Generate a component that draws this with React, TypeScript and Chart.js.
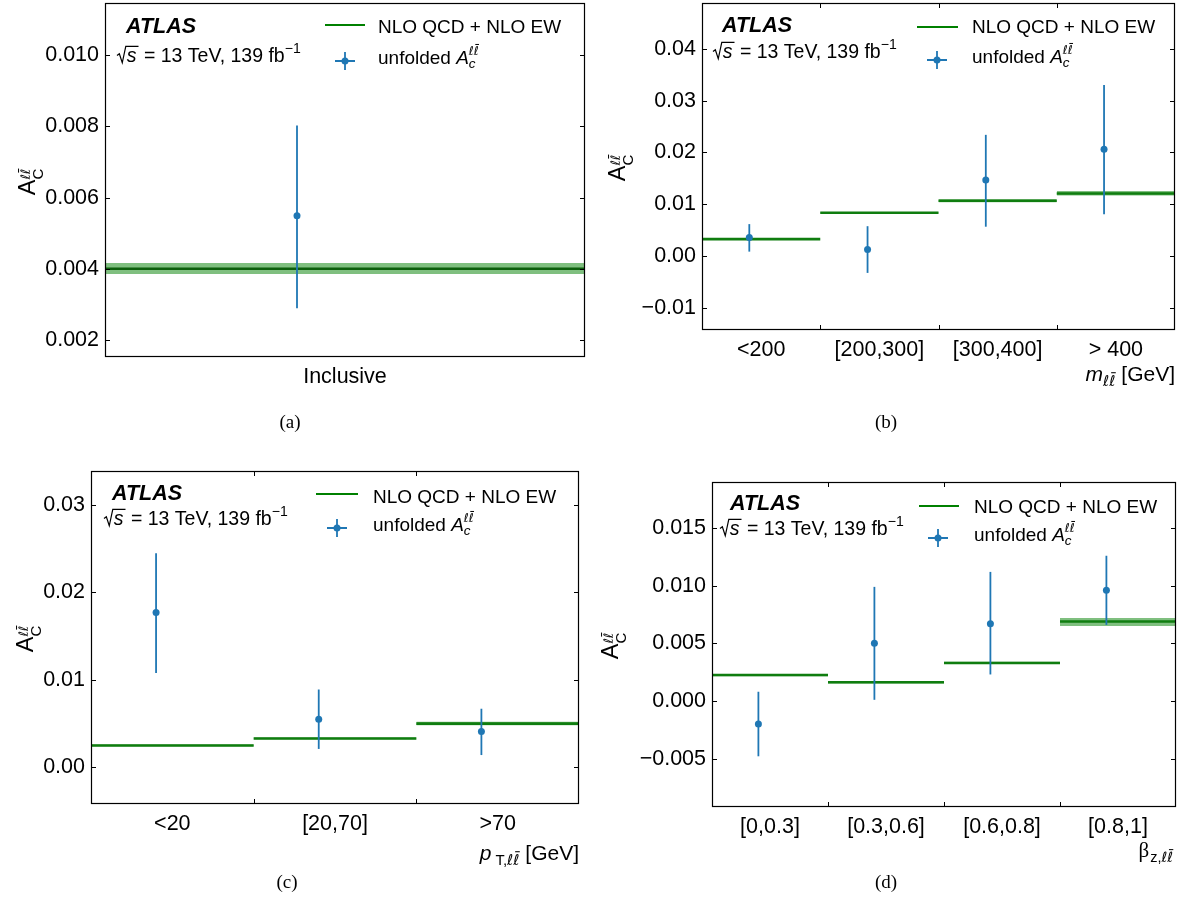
import React, { useEffect, useRef } from "react";
import { Chart, registerables } from "chart.js";

Chart.register(...registerables);

const SANS = "'Liberation Sans', Arial, sans-serif";
const MATH = "'DejaVu Sans', sans-serif";
const SERIF = "'Liberation Serif', 'Times New Roman', serif";

const BLUE = "#1f77b4";
const BAND = "rgba(0, 128, 0, 0.5)";

// (a) inclusive asymmetry
const inclusiveBins = ["Inclusive"];
const inclusiveValue = [0.00549];
const inclusiveDown = [0.00289];
const inclusiveUp = [0.00803];
const inclusiveTheory = [0.004];
const inclusiveTheoryDown = [0.00385];
const inclusiveTheoryUp = [0.00416];
const inclusiveYTicks = [0.002, 0.004, 0.006, 0.008, 0.01];
const inclusiveYLabels = ["0.002", "0.004", "0.006", "0.008", "0.010"];

// (b) differential in m_ll
const mllBins = ["<200", "[200,300]", "[300,400]", "> 400"];
const mllValue = [0.00361, 0.00129, 0.0147, 0.0206];
const mllDown = [0.0009, -0.0032, 0.0057, 0.0081];
const mllUp = [0.0062, 0.0058, 0.0234, 0.033];
const mllTheory = [0.0033, 0.0084, 0.0107, 0.0121];
const mllTheoryDown = [0.0032, 0.0083, 0.0104, 0.0117];
const mllTheoryUp = [0.0034, 0.0085, 0.011, 0.0126];
const mllYTicks = [-0.01, 0, 0.01, 0.02, 0.03, 0.04];
const mllYLabels = ["\u22120.01", "0.00", "0.01", "0.02", "0.03", "0.04"];

// (c) differential in pT_ll
const ptBins = ["<20", "[20,70]", ">70"];
const ptValue = [0.0177, 0.0055, 0.0041];
const ptDown = [0.0108, 0.0021, 0.0014];
const ptUp = [0.0245, 0.0089, 0.0067];
const ptTheory = [0.0025, 0.0033, 0.005];
const ptTheoryDown = [0.0024, 0.0032, 0.0048];
const ptTheoryUp = [0.0026, 0.0034, 0.0052];
const ptYTicks = [0, 0.01, 0.02, 0.03];
const ptYLabels = ["0.00", "0.01", "0.02", "0.03"];

// (d) differential in beta_z,ll
const betaBins = ["[0,0.3]", "[0.3,0.6]", "[0.6,0.8]", "[0.8,1]"];
const betaValue = [-0.002, 0.005, 0.0067, 0.0096];
const betaDown = [-0.0048, 0.0001, 0.0023, 0.0066];
const betaUp = [0.0008, 0.0099, 0.0112, 0.0126];
const betaTheory = [0.00225, 0.00162, 0.0033, 0.0069];
const betaTheoryDown = [0.00215, 0.00152, 0.0032, 0.0065];
const betaTheoryUp = [0.00235, 0.00172, 0.0034, 0.0072];
const betaYTicks = [-0.005, 0, 0.005, 0.01, 0.015];
const betaYLabels = ["\u22120.005", "0.000", "0.005", "0.010", "0.015"];

type Seg = { t: string; size: number; style?: string; fam?: string; dy?: number; dx?: number; bar?: boolean };
type Stack = { sub?: Seg[]; sup?: Seg[] };
type Piece = Seg | Stack;

const ell = (size: number, dy: number): Seg[] => [
  { t: "\u2113", size, fam: MATH, style: "italic", dy },
  { t: "\u2113", size, fam: MATH, style: "italic", dy, bar: true },
];

const fontOf = (s: Seg) => `${s.style ?? "normal"} ${s.size}px ${s.fam ?? SANS}`;

function segsWidth(ctx: CanvasRenderingContext2D, segs: Seg[]) {
  let w = 0;
  for (const s of segs) {
    ctx.font = fontOf(s);
    w += ctx.measureText(s.t).width + (s.dx ?? 0);
  }
  return w;
}

function piecesWidth(ctx: CanvasRenderingContext2D, pieces: Piece[]) {
  let w = 0;
  for (const p of pieces) {
    if ("t" in p) w += segsWidth(ctx, [p as Seg]);
    else {
      const st = p as Stack;
      w += Math.max(st.sub ? segsWidth(ctx, st.sub) : 0, st.sup ? segsWidth(ctx, st.sup) : 0);
    }
  }
  return w;
}

function drawSegs(ctx: CanvasRenderingContext2D, segs: Seg[], x: number, y: number) {
  for (const s of segs) {
    x += s.dx ?? 0;
    ctx.font = fontOf(s);
    const w = ctx.measureText(s.t).width;
    const by = y + (s.dy ?? 0);
    ctx.fillText(s.t, x, by);
    if (s.bar) ctx.fillRect(x + w * 0.3, by - s.size * 0.92, w * 0.75, Math.max(1, s.size * 0.07));
    x += w;
  }
  return x;
}

function drawPieces(ctx: CanvasRenderingContext2D, pieces: Piece[], x: number, y: number, align: "left" | "right" | "center") {
  const total = piecesWidth(ctx, pieces);
  if (align === "right") x -= total;
  else if (align === "center") x -= total / 2;
  ctx.textAlign = "left";
  ctx.textBaseline = "alphabetic";
  for (const p of pieces) {
    if ("t" in p) x = drawSegs(ctx, [p as Seg], x, y);
    else {
      const st = p as Stack;
      const a = st.sub ? drawSegs(ctx, st.sub, x, y) : x;
      const b = st.sup ? drawSegs(ctx, st.sup, x, y) : x;
      x = Math.max(a, b);
    }
  }
}

function drawSqrtS(ctx: CanvasRenderingContext2D, x: number, y: number, size: number) {
  ctx.font = `italic ${size}px ${SANS}`;
  const sw = ctx.measureText("s").width;
  const top = y - size * 0.8;
  ctx.save();
  ctx.lineWidth = 1.2;
  ctx.strokeStyle = "#000";
  ctx.beginPath();
  ctx.moveTo(x, y - size * 0.33);
  ctx.lineTo(x + size * 0.12, y - size * 0.42);
  ctx.lineTo(x + size * 0.27, y + size * 0.04);
  ctx.lineTo(x + size * 0.45, top);
  ctx.lineTo(x + size * 0.5 + sw + 2, top);
  ctx.stroke();
  ctx.restore();
  ctx.textAlign = "left";
  ctx.textBaseline = "alphabetic";
  ctx.fillText("s", x + size * 0.5, y);
  drawPieces(
    ctx,
    [
      { t: " = 13 TeV, 139 fb", size },
      { t: "\u22121", size: size * 0.72, dy: -size * 0.45 },
    ],
    x + size * 0.5 + sw + 2,
    y,
    "left"
  );
}

type PanelSpec = {
  ox: number;
  oy: number;
  area: { l: number; r: number; t: number; b: number };
  yMin: number;
  yMax: number;
  bins: string[];
  value: number[];
  down: number[];
  up: number[];
  theory: number[];
  theoryDown: number[];
  theoryUp: number[];
  yTicks: number[];
  yLabels: string[];
  lineColor: string;
  atlas: [number, number];
  sqrtS: [number, number];
  legLine: [number, number, number];
  legText1: [number, number];
  legMarker: [number, number];
  legText2: [number, number];
  yTitle: [number, number];
  xTitle: Piece[] | null;
  xTitlePos: [number, number];
  caption: string;
  captionPos: [number, number];
};

const yTitlePieces: Piece[] = [
  { t: "A", size: 23.5 },
  { sub: [{ t: "C", size: 15, dy: 8 }], sup: ell(13, -5) },
];

const legendText2: Piece[] = [
  { t: "unfolded ", size: 19 },
  { t: "A", size: 19, style: "italic" },
  { sub: [{ t: "c", size: 13.5, style: "italic", dy: 4 }], sup: ell(12, -9) },
];

const PANELS: PanelSpec[] = [
  {
    ox: 0, oy: 0,
    area: { l: 105, r: 585, t: 3, b: 357 },
    yMin: 0.00152, yMax: 0.01147,
    bins: inclusiveBins, value: inclusiveValue, down: inclusiveDown, up: inclusiveUp,
    theory: inclusiveTheory, theoryDown: inclusiveTheoryDown, theoryUp: inclusiveTheoryUp,
    yTicks: inclusiveYTicks, yLabels: inclusiveYLabels,
    lineColor: "#0b5e0b",
    atlas: [126, 33], sqrtS: [117, 62],
    legLine: [325, 365, 25], legText1: [378, 33], legMarker: [345, 61], legText2: [378, 64],
    yTitle: [35, 182],
    xTitle: null, xTitlePos: [0, 0],
    caption: "(a)", captionPos: [290, 428],
  },
  {
    ox: 594, oy: 0,
    area: { l: 702, r: 1175, t: 3, b: 330 },
    yMin: -0.0142, yMax: 0.0488,
    bins: mllBins, value: mllValue, down: mllDown, up: mllUp,
    theory: mllTheory, theoryDown: mllTheoryDown, theoryUp: mllTheoryUp,
    yTicks: mllYTicks, yLabels: mllYLabels,
    lineColor: "#0f7d0f",
    atlas: [722, 32], sqrtS: [713, 58],
    legLine: [917, 958, 27], legText1: [972, 33], legMarker: [937, 60], legText2: [972, 63],
    yTitle: [625, 168],
    xTitle: [{ t: "m", size: 21, style: "italic" }, { sub: ell(15, 5) }, { t: " [GeV]", size: 21 }],
    xTitlePos: [1175, 381],
    caption: "(b)", captionPos: [886, 428],
  },
  {
    ox: 0, oy: 459,
    area: { l: 91, r: 579, t: 471, b: 804 },
    yMin: -0.0042, yMax: 0.0339,
    bins: ptBins, value: ptValue, down: ptDown, up: ptUp,
    theory: ptTheory, theoryDown: ptTheoryDown, theoryUp: ptTheoryUp,
    yTicks: ptYTicks, yLabels: ptYLabels,
    lineColor: "#0f7d0f",
    atlas: [112, 500], sqrtS: [104, 525],
    legLine: [316, 358, 494], legText1: [373, 503], legMarker: [337, 528], legText2: [373, 531],
    yTitle: [33, 639],
    xTitle: [
      { t: "p", size: 21, style: "italic" },
      { sub: [{ t: "T,", size: 15, dy: 5, dx: 4 }, ...ell(15, 5)] },
      { t: " [GeV]", size: 21 },
    ],
    xTitlePos: [579, 860],
    caption: "(c)", captionPos: [287, 888],
  },
  {
    ox: 594, oy: 459,
    area: { l: 712, r: 1176, t: 482, b: 807 },
    yMin: -0.0092, yMax: 0.019,
    bins: betaBins, value: betaValue, down: betaDown, up: betaUp,
    theory: betaTheory, theoryDown: betaTheoryDown, theoryUp: betaTheoryUp,
    yTicks: betaYTicks, yLabels: betaYLabels,
    lineColor: "#0f7d0f",
    atlas: [730, 510], sqrtS: [720, 535],
    legLine: [919, 959, 506], legText1: [974, 513], legMarker: [938, 538], legText2: [974, 541],
    yTitle: [618, 646],
    xTitle: [{ t: "\u03b2", size: 21, fam: SERIF }, { sub: [{ t: "z,", size: 14.5, dy: 5, dx: 1 }, ...ell(14, 5)] }],
    xTitlePos: [1173, 857],
    caption: "(d)", captionPos: [886, 888],
  },
];

const CW = 594;
const CH = 459;
const XH = 40;

function decorPlugin(spec: PanelSpec) {
  return {
    id: "decor",
    afterDraw(chart: any) {
      const { ctx, chartArea, scales } = chart;
      const c = ctx as CanvasRenderingContext2D;
      const px = (x: number) => x - spec.ox;
      const py = (y: number) => y - spec.oy;
      const { left, right, top, bottom } = chartArea;
      c.save();
      c.fillStyle = "#000";
      c.strokeStyle = "#000";

      // frame
      c.lineWidth = 1.2;
      c.strokeRect(left + 0.5, top + 0.5, right - left - 1, bottom - top - 1);

      // inward ticks
      c.lineWidth = 1;
      c.beginPath();
      for (const v of spec.yTicks) {
        const y = Math.round(scales.y.getPixelForValue(v)) + 0.5;
        c.moveTo(left, y);
        c.lineTo(left + 5, y);
        c.moveTo(right, y);
        c.lineTo(right - 5, y);
      }
      for (let i = 1; i < spec.bins.length; i++) {
        const x = Math.round(scales.x.getPixelForValue(i)) + 0.5;
        c.moveTo(x, bottom);
        c.lineTo(x, bottom - 5);
        c.moveTo(x, top);
        c.lineTo(x, top + 5);
      }
      c.stroke();

      // experiment label
      c.textAlign = "left";
      c.textBaseline = "alphabetic";
      c.font = `italic bold 21.5px ${SANS}`;
      c.fillText("ATLAS", px(spec.atlas[0]), py(spec.atlas[1]));
      drawSqrtS(c, px(spec.sqrtS[0]), py(spec.sqrtS[1]), 19.5);

      // legend
      c.strokeStyle = "#008000";
      c.lineWidth = 2;
      c.beginPath();
      c.moveTo(px(spec.legLine[0]), py(spec.legLine[2]));
      c.lineTo(px(spec.legLine[1]), py(spec.legLine[2]));
      c.stroke();
      drawPieces(c, [{ t: "NLO QCD + NLO EW", size: 19 }], px(spec.legText1[0]), py(spec.legText1[1]), "left");
      const mx = px(spec.legMarker[0]);
      const my = py(spec.legMarker[1]);
      c.strokeStyle = BLUE;
      c.lineWidth = 1.8;
      c.beginPath();
      c.moveTo(mx - 10, my);
      c.lineTo(mx + 10, my);
      c.moveTo(mx, my - 9);
      c.lineTo(mx, my + 9);
      c.stroke();
      c.fillStyle = BLUE;
      c.beginPath();
      c.arc(mx, my, 3.5, 0, Math.PI * 2);
      c.fill();
      c.fillStyle = "#000";
      drawPieces(c, legendText2, px(spec.legText2[0]), py(spec.legText2[1]), "left");

      // y-axis title
      c.save();
      c.translate(px(spec.yTitle[0]), py(spec.yTitle[1]));
      c.rotate(-Math.PI / 2);
      drawPieces(c, yTitlePieces, 0, 0, "center");
      c.restore();

      // x-axis title
      if (spec.xTitle) drawPieces(c, spec.xTitle, px(spec.xTitlePos[0]), py(spec.xTitlePos[1]), "right");

      // caption
      c.font = `19px ${SERIF}`;
      c.textAlign = "center";
      c.fillText(spec.caption, px(spec.captionPos[0]), py(spec.captionPos[1]));
      c.restore();
    },
  };
}

function buildConfig(spec: PanelSpec): any {
  const datasets: any[] = [];
  spec.bins.forEach((_, i) => {
    datasets.push({
      data: [
        { x: i, y: spec.theoryUp[i] },
        { x: i + 1, y: spec.theoryUp[i] },
      ],
      fill: { value: spec.theoryDown[i] },
      backgroundColor: BAND,
      borderColor: "rgba(0,0,0,0)",
      borderWidth: 0,
      pointRadius: 0,
      order: 4,
    });
    datasets.push({
      data: [
        { x: i, y: spec.theory[i] },
        { x: i + 1, y: spec.theory[i] },
      ],
      borderColor: spec.lineColor,
      borderWidth: 2.6,
      borderCapStyle: "butt",
      pointRadius: 0,
      fill: false,
      order: 3,
    });
    datasets.push({
      data: [
        { x: i + 0.4, y: spec.down[i] },
        { x: i + 0.4, y: spec.up[i] },
      ],
      borderColor: BLUE,
      borderWidth: 1.8,
      borderCapStyle: "butt",
      pointRadius: 0,
      fill: false,
      order: 2,
    });
  });
  datasets.push({
    data: spec.value.map((v, i) => ({ x: i + 0.4, y: v })),
    showLine: false,
    pointRadius: 3.5,
    pointBackgroundColor: BLUE,
    pointBorderWidth: 0,
    pointBorderColor: BLUE,
    order: 1,
  });

  const tickFont = { family: SANS, size: 21.5 };
  return {
    type: "line",
    data: { datasets },
    options: {
      animation: false,
      responsive: false,
      devicePixelRatio: 1,
      events: [],
      layout: {
        autoPadding: false,
        padding: {
          left: 0,
          top: spec.area.t - spec.oy,
          right: spec.ox + CW - spec.area.r,
          bottom: spec.oy + CH - spec.area.b - XH,
        },
      },
      plugins: { legend: { display: false }, tooltip: { enabled: false } },
      scales: {
        x: {
          type: "linear",
          min: 0,
          max: spec.bins.length,
          grid: { display: false, drawTicks: false },
          border: { display: false },
          afterBuildTicks: (s: any) => {
            s.ticks = spec.bins.map((_, i) => ({ value: i + 0.5 }));
          },
          ticks: {
            callback: (v: any) => spec.bins[Math.floor(Number(v))] ?? "",
            font: tickFont,
            color: "#000",
            padding: 7,
            maxRotation: 0,
            minRotation: 0,
            autoSkip: false,
          },
          afterFit: (s: any) => {
            s.height = XH;
            s.paddingLeft = 0;
            s.paddingRight = 0;
          },
        },
        y: {
          type: "linear",
          min: spec.yMin,
          max: spec.yMax,
          grid: { display: false, drawTicks: false },
          border: { display: false },
          afterBuildTicks: (s: any) => {
            s.ticks = spec.yTicks.map((v) => ({ value: v }));
          },
          ticks: {
            callback: (v: any) => {
              const k = spec.yTicks.findIndex((t) => Math.abs(t - Number(v)) < 1e-9);
              return k >= 0 ? spec.yLabels[k] : "";
            },
            font: tickFont,
            color: "#000",
            padding: 6,
            autoSkip: false,
          },
          afterFit: (s: any) => {
            s.width = spec.area.l - spec.ox;
            s.paddingTop = 0;
            s.paddingBottom = 0;
          },
        },
      },
    },
    plugins: [decorPlugin(spec)],
  };
}

function PanelChart({ spec }: { spec: PanelSpec }) {
  const ref = useRef<HTMLCanvasElement>(null);
  useEffect(() => {
    if (!ref.current) return;
    const chart = new Chart(ref.current, buildConfig(spec));
    return () => chart.destroy();
  }, [spec]);
  return (
    <canvas
      ref={ref}
      width={CW}
      height={CH}
      style={{ position: "absolute", left: spec.ox, top: spec.oy, width: CW, height: CH }}
    />
  );
}

export default function App() {
  return (
    <div style={{ position: "absolute", left: 0, top: 0, width: 1188, height: 918, background: "#fff", overflow: "hidden" }}>
      {PANELS.map((p, i) => (
        <PanelChart key={i} spec={p} />
      ))}
    </div>
  );
}
